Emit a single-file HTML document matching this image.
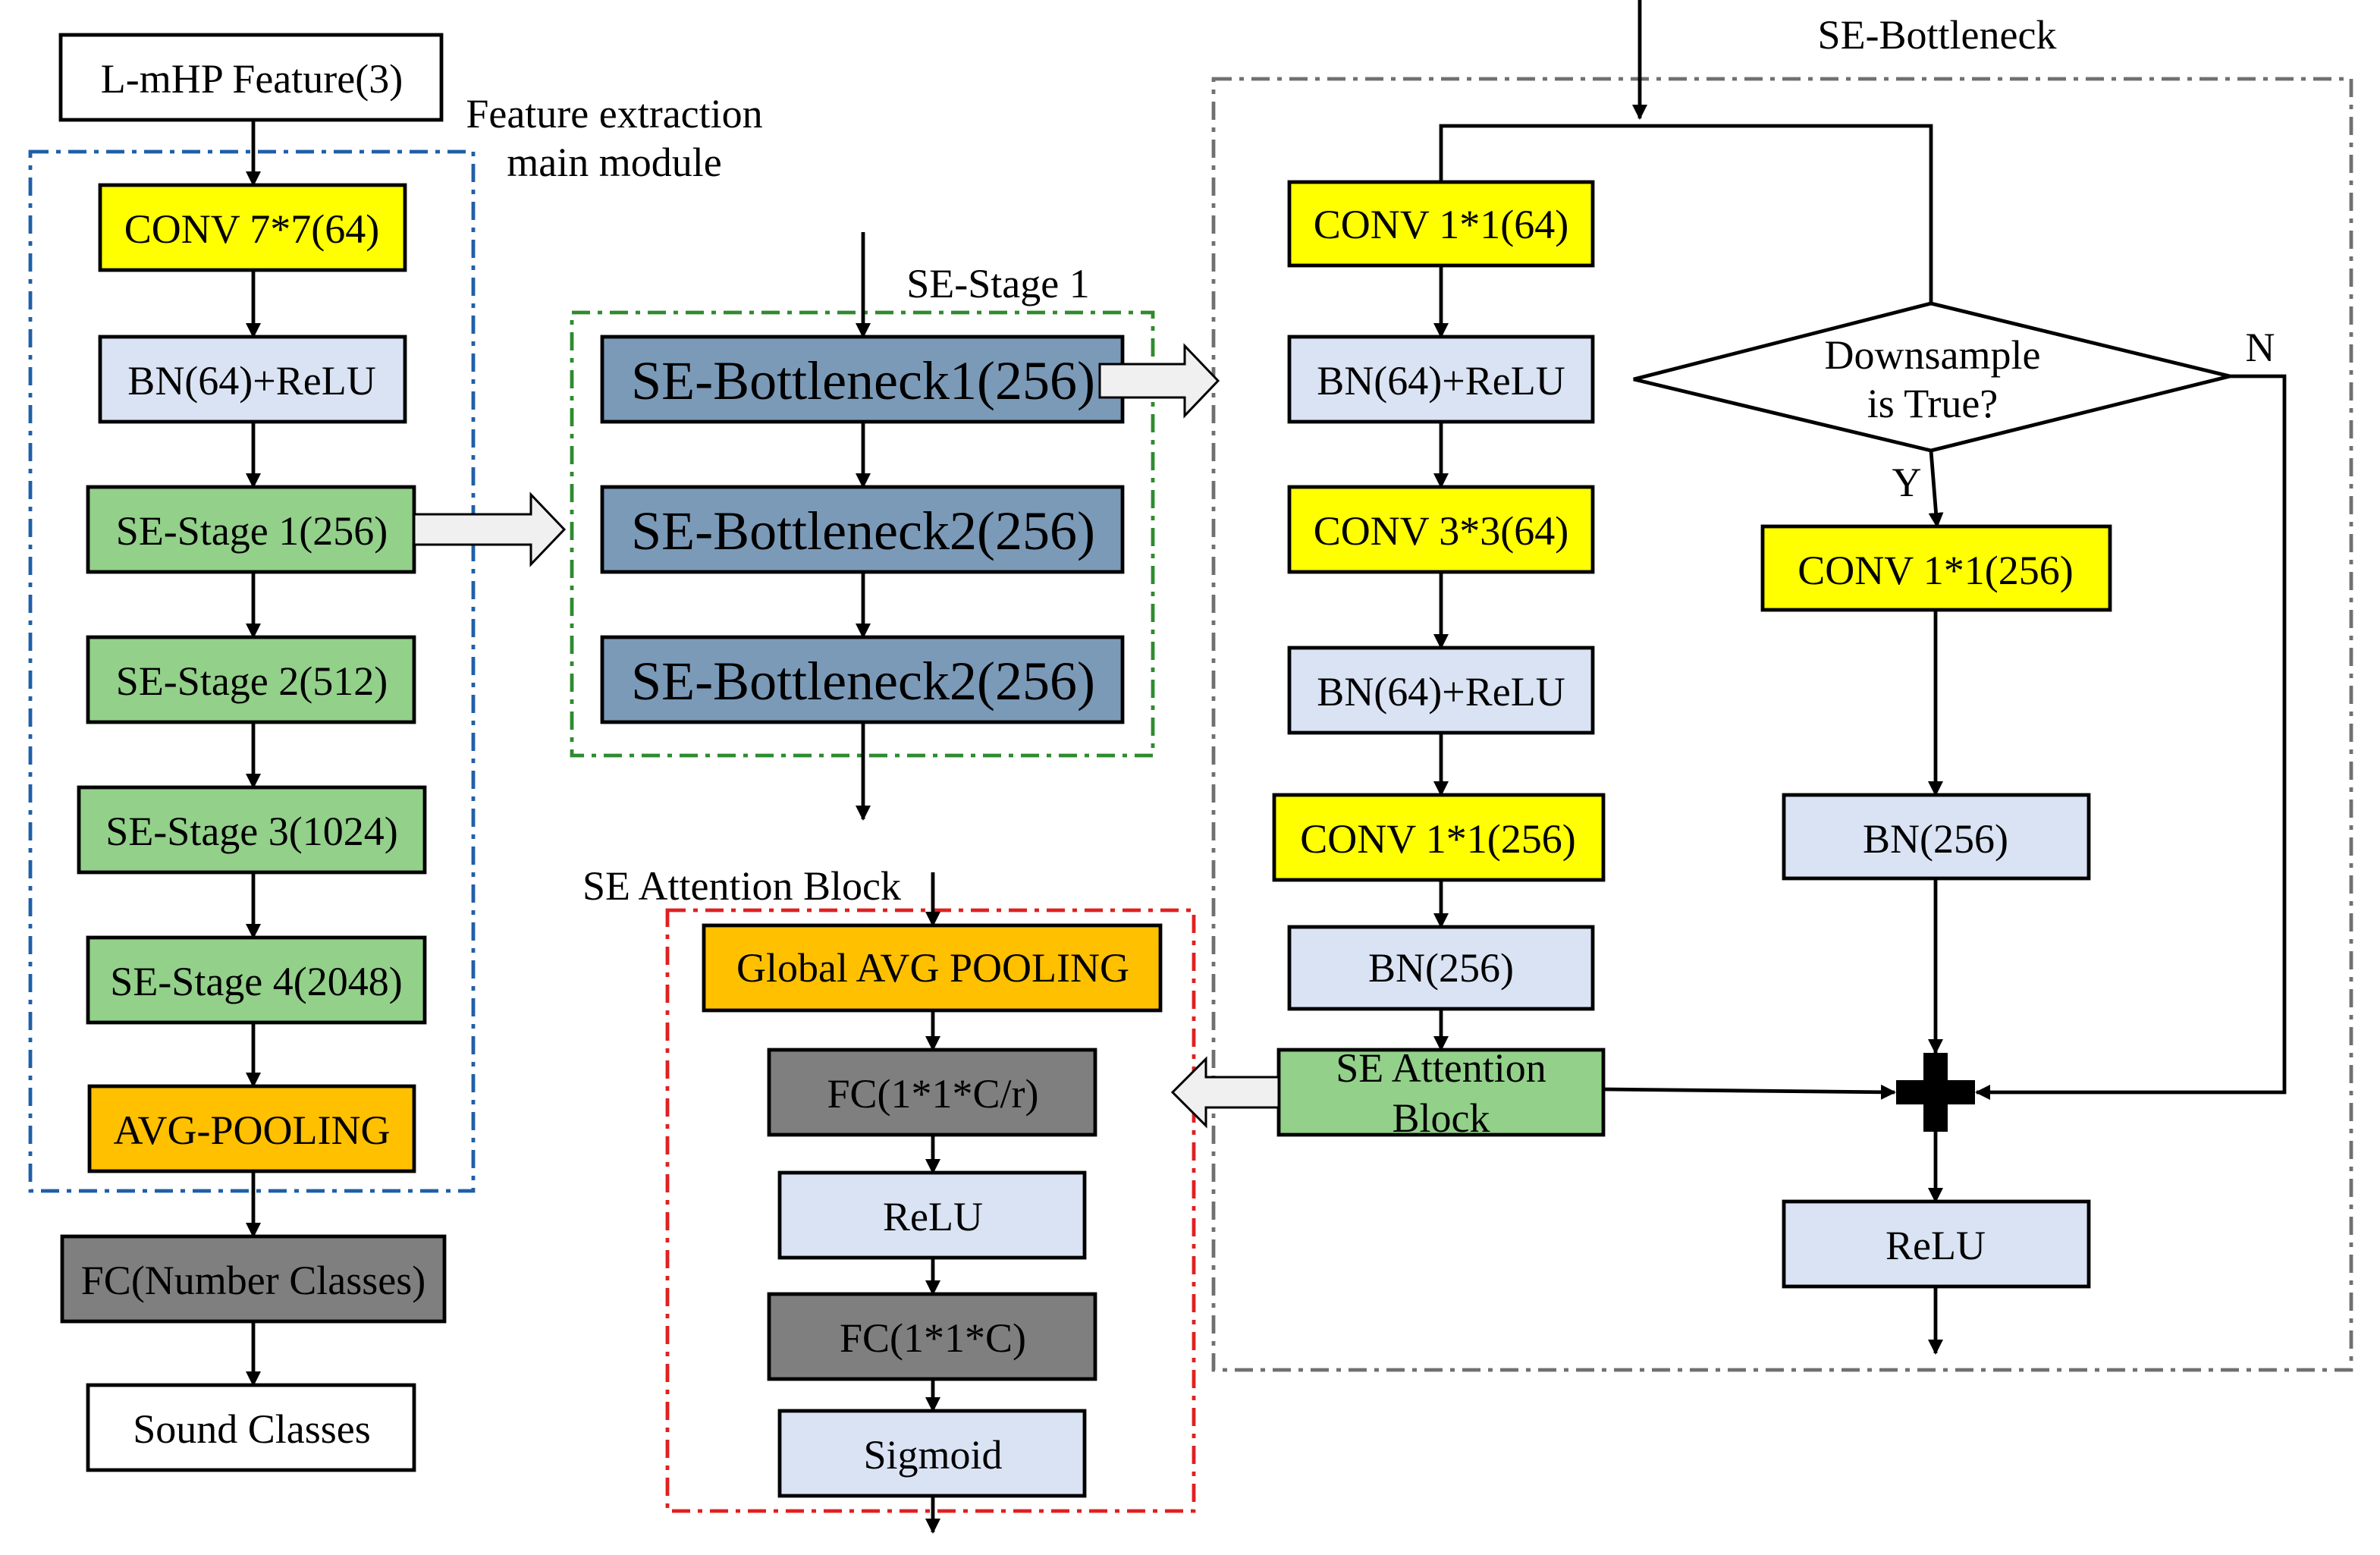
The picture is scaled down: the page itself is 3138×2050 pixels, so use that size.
<!DOCTYPE html>
<html><head><meta charset="utf-8"><style>
html,body{margin:0;padding:0;background:#fff;}
svg{display:block;}
text{font-family:"Liberation Serif",serif;fill:#000;}
</style></head><body>
<svg width="3138" height="2050" viewBox="0 0 1569 1025" xmlns="http://www.w3.org/2000/svg">
<defs>
<marker id="a" markerWidth="10" markerHeight="10" refX="9" refY="5" orient="auto" markerUnits="userSpaceOnUse">
<path d="M0,0 L10,5 L0,10 z" fill="#000"/></marker>
</defs>
<g fill="none" stroke-width="2.4" stroke-dasharray="12,5,3,5">
<rect x="20" y="100" width="292" height="685" stroke="#1f5fa8"/>
<rect x="377" y="206" width="383" height="292" stroke="#2e8b2e"/>
<rect x="800" y="52" width="750" height="851" stroke="#707070"/>
<rect x="440" y="600" width="347" height="396" stroke="#e02020"/>
</g>
<g stroke="#000" stroke-width="2.4">
<rect x="40" y="23" width="251" height="56" fill="#fff"/>
<rect x="66" y="122" width="201" height="56" fill="#ffff00"/>
<rect x="66" y="222" width="201" height="56" fill="#dae3f3"/>
<rect x="58" y="321" width="215" height="56" fill="#93d08a"/>
<rect x="58" y="420" width="215" height="56" fill="#93d08a"/>
<rect x="52" y="519" width="228" height="56" fill="#93d08a"/>
<rect x="58" y="618" width="222" height="56" fill="#93d08a"/>
<rect x="59" y="716" width="214" height="56" fill="#ffc000"/>
<rect x="41" y="815" width="252" height="56" fill="#7f7f7f"/>
<rect x="58" y="913" width="215" height="56" fill="#fff"/>
<rect x="397" y="222" width="343" height="56" fill="#7b9ab8"/>
<rect x="397" y="321" width="343" height="56" fill="#7b9ab8"/>
<rect x="397" y="420" width="343" height="56" fill="#7b9ab8"/>
<rect x="850" y="120" width="200" height="55" fill="#ffff00"/>
<rect x="850" y="222" width="200" height="56" fill="#dae3f3"/>
<rect x="850" y="321" width="200" height="56" fill="#ffff00"/>
<rect x="850" y="427" width="200" height="56" fill="#dae3f3"/>
<rect x="840" y="524" width="217" height="56" fill="#ffff00"/>
<rect x="850" y="611" width="200" height="54" fill="#dae3f3"/>
<rect x="843" y="692" width="214" height="56" fill="#93d08a"/>
<rect x="1162" y="347" width="229" height="55" fill="#ffff00"/>
<rect x="1176" y="524" width="201" height="55" fill="#dae3f3"/>
<rect x="1176" y="792" width="201" height="56" fill="#dae3f3"/>
<rect x="464" y="610" width="301" height="56" fill="#ffc000"/>
<rect x="507" y="692" width="215" height="56" fill="#7f7f7f"/>
<rect x="514" y="773" width="201" height="56" fill="#dae3f3"/>
<rect x="507" y="853" width="215" height="56" fill="#7f7f7f"/>
<rect x="514" y="930" width="201" height="56" fill="#dae3f3"/>
<path d="M1077,250 L1273,200 L1470,248 L1273,297 Z" fill="#fff"/>
</g>
<g stroke="#000" stroke-width="2.4" fill="none" marker-end="url(#a)">
<line x1="167" y1="79" x2="167" y2="122"/>
<line x1="167" y1="178" x2="167" y2="222"/>
<line x1="167" y1="278" x2="167" y2="321"/>
<line x1="167" y1="377" x2="167" y2="420"/>
<line x1="167" y1="476" x2="167" y2="519"/>
<line x1="167" y1="575" x2="167" y2="618"/>
<line x1="167" y1="674" x2="167" y2="716"/>
<line x1="167" y1="772" x2="167" y2="815"/>
<line x1="167" y1="871" x2="167" y2="913"/>
<line x1="569" y1="153" x2="569" y2="222"/>
<line x1="569" y1="278" x2="569" y2="321"/>
<line x1="569" y1="377" x2="569" y2="420"/>
<line x1="569" y1="476" x2="569" y2="540"/>
<line x1="1081" y1="0" x2="1081" y2="78"/>
<line x1="950" y1="175" x2="950" y2="222"/>
<line x1="950" y1="278" x2="950" y2="321"/>
<line x1="950" y1="377" x2="950" y2="427"/>
<line x1="950" y1="483" x2="950" y2="524"/>
<line x1="950" y1="580" x2="950" y2="611"/>
<line x1="950" y1="665" x2="950" y2="692"/>
<line x1="1273" y1="297" x2="1277" y2="347"/>
<line x1="1276" y1="402" x2="1276" y2="524"/>
<line x1="1276" y1="579" x2="1276" y2="694"/>
<line x1="1276" y1="746" x2="1276" y2="792"/>
<line x1="1276" y1="848" x2="1276" y2="892"/>
<line x1="1057" y1="718" x2="1249" y2="720"/>
<polyline points="1470,248 1506,248 1506,720 1303,720"/>
<line x1="615" y1="575" x2="615" y2="610"/>
<line x1="615" y1="666" x2="615" y2="692"/>
<line x1="615" y1="748" x2="615" y2="773"/>
<line x1="615" y1="829" x2="615" y2="853"/>
<line x1="615" y1="909" x2="615" y2="930"/>
<line x1="615" y1="986" x2="615" y2="1010"/>
</g>
<polyline points="950,120 950,83 1273,83 1273,200" fill="none" stroke="#000" stroke-width="2.4"/>
<g fill="#f0f0f0" stroke="#000" stroke-width="1.5">
<path d="M273,339 L350,339 L350,326 L372,349 L350,372 L350,359 L273,359 Z"/>
<path d="M725,240 L781,240 L781,228 L803,251 L781,274 L781,262 L725,262 Z"/>
<path d="M843,710 L795,710 L795,698 L773,720 L795,742 L795,730 L843,730 Z"/>
</g>
<path d="M1268,694 h16 v18 h18 v16 h-18 v18 h-16 v-18 h-18 v-16 h18 z" fill="#000"/>
<g font-size="27" text-anchor="middle">
<text x="166" y="61">L-mHP Feature(3)</text>
<text x="166" y="160">CONV 7*7(64)</text>
<text x="166" y="260">BN(64)+ReLU</text>
<text x="166" y="359">SE-Stage 1(256)</text>
<text x="166" y="458">SE-Stage 2(512)</text>
<text x="166" y="557">SE-Stage 3(1024)</text>
<text x="169" y="656">SE-Stage 4(2048)</text>
<text x="166" y="754">AVG-POOLING</text>
<text x="167" y="853">FC(Number Classes)</text>
<text x="166" y="951">Sound Classes</text>
<text x="405" y="84">Feature extraction</text>
<text x="405" y="116">main module</text>
<text x="658" y="196">SE-Stage 1</text>
<text x="1277" y="32">SE-Bottleneck</text>
<text x="489" y="593">SE Attention Block</text>
<text x="950" y="157">CONV 1*1(64)</text>
<text x="950" y="260">BN(64)+ReLU</text>
<text x="950" y="359">CONV 3*3(64)</text>
<text x="950" y="465">BN(64)+ReLU</text>
<text x="948" y="562">CONV 1*1(256)</text>
<text x="950" y="647">BN(256)</text>
<text x="950" y="713">SE Attention</text>
<text x="950" y="746">Block</text>
<text x="1274" y="243">Downsample</text>
<text x="1274" y="275">is True?</text>
<text x="1490" y="238">N</text>
<text x="1257" y="327">Y</text>
<text x="1276" y="385">CONV 1*1(256)</text>
<text x="1276" y="562">BN(256)</text>
<text x="1276" y="830">ReLU</text>
<text x="615" y="647">Global AVG POOLING</text>
<text x="615" y="730">FC(1*1*C/r)</text>
<text x="615" y="811">ReLU</text>
<text x="615" y="891">FC(1*1*C)</text>
<text x="615" y="968">Sigmoid</text>
</g>
<g font-size="36" text-anchor="middle">
<text x="569" y="263">SE-Bottleneck1(256)</text>
<text x="569" y="362">SE-Bottleneck2(256)</text>
<text x="569" y="461">SE-Bottleneck2(256)</text>
</g>
</svg>
</body></html>
